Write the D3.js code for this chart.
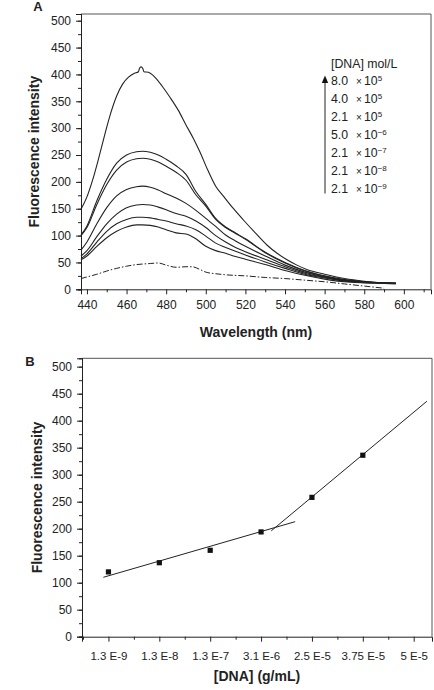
<!DOCTYPE html>
<html><head><meta charset="utf-8">
<script src="https://cdn.jsdelivr.net/npm/d3@7"></script>
<style>
body{margin:0;background:#fff;}
text{font-family:"Liberation Sans",Arial,sans-serif;fill:#222;}
</style></head>
<body>
<svg id="c" width="434" height="690"></svg>
<script>
// ---------- Panel A data ----------
const wavelengths = [437,440,445,450,455,460,465,468,472,476,480,485,490,495,500,505,510,515,520,530,540,550,560,570,580,590,596];
const topWavelengths = [437,440,443,446,449,452,455,458,461,464,466,466.5,467.3,468.2,468.8,471,474,478,482,486,490,494,497,501,505,509,514,519,525,531,536,541,546,551,560,570,580,590,596];
const series8_0e5 = [149,172,205,245,288,328,360,382,395,402,405,411,414,411,405,404,396,378,357,334,306,279,256,222,192,173,150,129,105,82,67,55,45,37,28,20,15,12,11];
const series4_0e5 = [101,118,165,205,235,250,256,257,255,250,242,230,214,182,158,132,116,105,94,69,50,35,25,18,14,12,11];
const series2_1e5 = [100,115,158,195,222,237,243,244,242,237,229,218,203,176,155,130,115,104,93,68,49,34,24,17,14,12,11];
const series5_0e6 = [73,88,122,152,174,186,191,192,190,185,178,170,160,147,132,117,101,90,80,62,45,32,23,17,14,12,11];
const series2_1e7 = [62,72,98,122,140,152,157,158,157,153,148,141,136,127,115,100,88,78,70,56,42,30,22,16,13,12,11];
const series2_1e8 = [57,66,88,108,122,130,134,134,133,130,127,122,118,111,99,86,78,71,64,51,39,28,21,15,13,12,11];
const series2_1e9 = [55,62,80,96,108,116,120,120,119,116,111,105,103,94,80,72,67,61,56,46,35,26,19,14,12,11,10];
const dashWavelengths = [437,440,445,450,455,460,465,468,472,476,480,485,490,493,497,500,505,510,520,530,540,550,560,570,580,590];
const seriesDye = [20,23,28,34,39,43,46,47,48,49,45,41,42,42,37,32,29,27,25,22,20,17,14,10,6,2];
const legendTitle = "[DNA] mol/L";
const legendMantissa = ["8.0","4.0","2.1","5.0","2.1","2.1","2.1"];
const legendExponent = ["5","5","5","\u22126","\u22127","\u22128","\u22129"];
const yTicksA = [0,50,100,150,200,250,300,350,400,450,500];
const xTicksA = [440,460,480,500,520,540,560,580,600];

// ---------- Panel B data ----------
const categoriesB = ["1.3 E-9","1.3 E-8","1.3 E-7","3.1 E-6","2.5 E-5","3.75 E-5","5 E-5"];
const pointsB = [120,137,160,194,258,336];
const fitLow = [[-0.1,110],[3.67,213]];
const fitHigh = [[3.2,196],[6.26,436]];
const yTicksB = [0,50,100,150,200,250,300,350,400,450,500];

const svg = d3.select("#c");
const axisColor = "#222", frameColor = "#555";

// ---------- Panel A ----------
const A = {l:81, r:431, t:14, b:289.3};
const xA = d3.scaleLinear().domain([437,613.7]).range([A.l,A.r]);
const yA = d3.scaleLinear().domain([0,512.5]).range([A.b,A.t]);

function frame(box){
  svg.append("path").attr("d",`M${box.l},${box.t}H${box.r}V${box.b}`)
    .attr("fill","none").attr("stroke",frameColor).attr("stroke-width",1);
}
frame(A);

// y axis A
svg.append("g").attr("transform",`translate(${A.l},0)`)
  .call(d3.axisLeft(yA).tickValues(d3.range(0,513,25)).tickSize(3).tickFormat(""))
  .call(g=>g.selectAll(".tick line").attr("stroke",axisColor));
svg.append("g").attr("transform",`translate(${A.l},0)`)
  .call(d3.axisLeft(yA).tickValues(yTicksA).tickSize(5).tickPadding(5))
  .call(g=>{g.select(".domain").attr("stroke",axisColor);
    g.selectAll(".tick line").attr("stroke",axisColor);
    g.selectAll("text").attr("font-size",12).attr("font-family","Liberation Sans, Arial").attr("fill","#222");});

// x axis A
svg.append("g").attr("transform",`translate(0,${A.b})`)
  .call(d3.axisBottom(xA).tickValues(d3.range(450,611,20)).tickSize(3).tickFormat(""))
  .call(g=>{g.select(".domain").remove();g.selectAll(".tick line").attr("stroke",axisColor);});
svg.append("g").attr("transform",`translate(0,${A.b})`)
  .call(d3.axisBottom(xA).tickValues(xTicksA).tickSize(5).tickPadding(6))
  .call(g=>{g.select(".domain").attr("stroke",axisColor);
    g.selectAll(".tick line").attr("stroke",axisColor);
    g.selectAll("text").attr("font-size",12).attr("font-family","Liberation Sans, Arial").attr("fill","#222");});

const lineA = d3.line().x(d=>xA(d[0])).y(d=>yA(d[1])).curve(d3.curveMonotoneX);
const solidSeries = [
  [topWavelengths, series8_0e5],
  [wavelengths, series4_0e5],
  [wavelengths, series2_1e5],
  [wavelengths, series5_0e6],
  [wavelengths, series2_1e7],
  [wavelengths, series2_1e8],
  [wavelengths, series2_1e9]
];
solidSeries.forEach(([w,v])=>{
  svg.append("path").attr("d",lineA(w.map((x,i)=>[x,v[i]])))
    .attr("fill","none").attr("stroke","#222").attr("stroke-width",1.1);
});
svg.append("path").attr("d",lineA(dashWavelengths.map((x,i)=>[x,seriesDye[i]])))
  .attr("fill","none").attr("stroke","#222").attr("stroke-width",1)
  .attr("stroke-dasharray","6,2,1.5,2");

// legend
svg.append("text").attr("x",331).attr("y",67.5).attr("font-size",12.3).text(legendTitle);
const legY0 = 81, legDy = 18;
legendMantissa.forEach((m,i)=>{
  const y = legY0 + i*legDy + 4.3;
  const t = svg.append("text").attr("x",331).attr("y",y).attr("font-size",12.3);
  t.append("tspan").text(m);
  t.append("tspan").attr("x",356).attr("font-size",10).text("\u00d7");
  t.append("tspan").attr("x",364).text("10");
  t.append("tspan").attr("dy",-4.5).attr("font-size",8).text(legendExponent[i]);
});
svg.append("line").attr("x1",325).attr("x2",325).attr("y1",80).attr("y2",193.5)
  .attr("stroke","#222").attr("stroke-width",1);
svg.append("path").attr("d","M325,75.5L321.8,83L328.2,83Z").attr("fill","#111");

// titles A
svg.append("text").attr("x",38).attr("y",11).attr("font-size",13).attr("font-weight","bold").attr("text-anchor","middle").text("A");
svg.append("text").attr("x",256).attr("y",337).attr("font-size",14).attr("font-weight","bold").attr("text-anchor","middle").text("Wavelength (nm)");
svg.append("text").attr("transform",`translate(39,${(A.t+A.b)/2}) rotate(-90)`).attr("font-size",14).attr("font-weight","bold").attr("text-anchor","middle").text("Fluorescence intensity");

// ---------- Panel B ----------
const B = {l:82, r:432, t:358.3, b:636.7};
const xB = d3.scaleLinear().domain([-0.52,6.36]).range([B.l,B.r]);
const yB = d3.scaleLinear().domain([0,515.5]).range([B.b,B.t]);
frame(B);

svg.append("g").attr("transform",`translate(${B.l},0)`)
  .call(d3.axisLeft(yB).tickValues(d3.range(0,516,25)).tickSize(3).tickFormat(""))
  .call(g=>g.selectAll(".tick line").attr("stroke",axisColor));
svg.append("g").attr("transform",`translate(${B.l},0)`)
  .call(d3.axisLeft(yB).tickValues(yTicksB).tickSize(5).tickPadding(5))
  .call(g=>{g.select(".domain").attr("stroke",axisColor);
    g.selectAll(".tick line").attr("stroke",axisColor);
    g.selectAll("text").attr("font-size",12).attr("font-family","Liberation Sans, Arial").attr("fill","#222");});

svg.append("g").attr("transform",`translate(0,${B.b})`)
  .call(d3.axisBottom(xB).tickValues(d3.range(-0.5,6,1)).tickSize(3).tickFormat(""))
  .call(g=>{g.select(".domain").remove();g.selectAll(".tick line").attr("stroke",axisColor);});
svg.append("g").attr("transform",`translate(0,${B.b})`)
  .call(d3.axisBottom(xB).tickValues(d3.range(categoriesB.length)).tickSize(5).tickPadding(10)
    .tickFormat(i=>categoriesB[i]))
  .call(g=>{g.select(".domain").attr("stroke",axisColor);
    g.selectAll(".tick line").attr("stroke",axisColor);
    g.selectAll("text").attr("font-size",11.5).attr("font-family","Liberation Sans, Arial").attr("fill","#222");});

const lineB = d3.line().x(d=>xB(d[0])).y(d=>yB(d[1]));
[fitLow, fitHigh].forEach(f=>{
  svg.append("path").attr("d",lineB(f)).attr("fill","none").attr("stroke","#222").attr("stroke-width",1);
});
svg.append("g").selectAll("rect").data(pointsB).join("rect")
  .attr("x",(d,i)=>xB(i)-2.6).attr("y",d=>yB(d)-2.6)
  .attr("width",5.2).attr("height",5.2).attr("fill","#111");

svg.append("text").attr("x",30).attr("y",366).attr("font-size",13).attr("font-weight","bold").attr("text-anchor","middle").text("B");
svg.append("text").attr("x",257).attr("y",681).attr("font-size",14).attr("font-weight","bold").attr("text-anchor","middle").text("[DNA] (g/mL)");
svg.append("text").attr("transform",`translate(42,${(B.t+B.b)/2}) rotate(-90)`).attr("font-size",14).attr("font-weight","bold").attr("text-anchor","middle").text("Fluorescence intensity");
</script>
</body></html>
